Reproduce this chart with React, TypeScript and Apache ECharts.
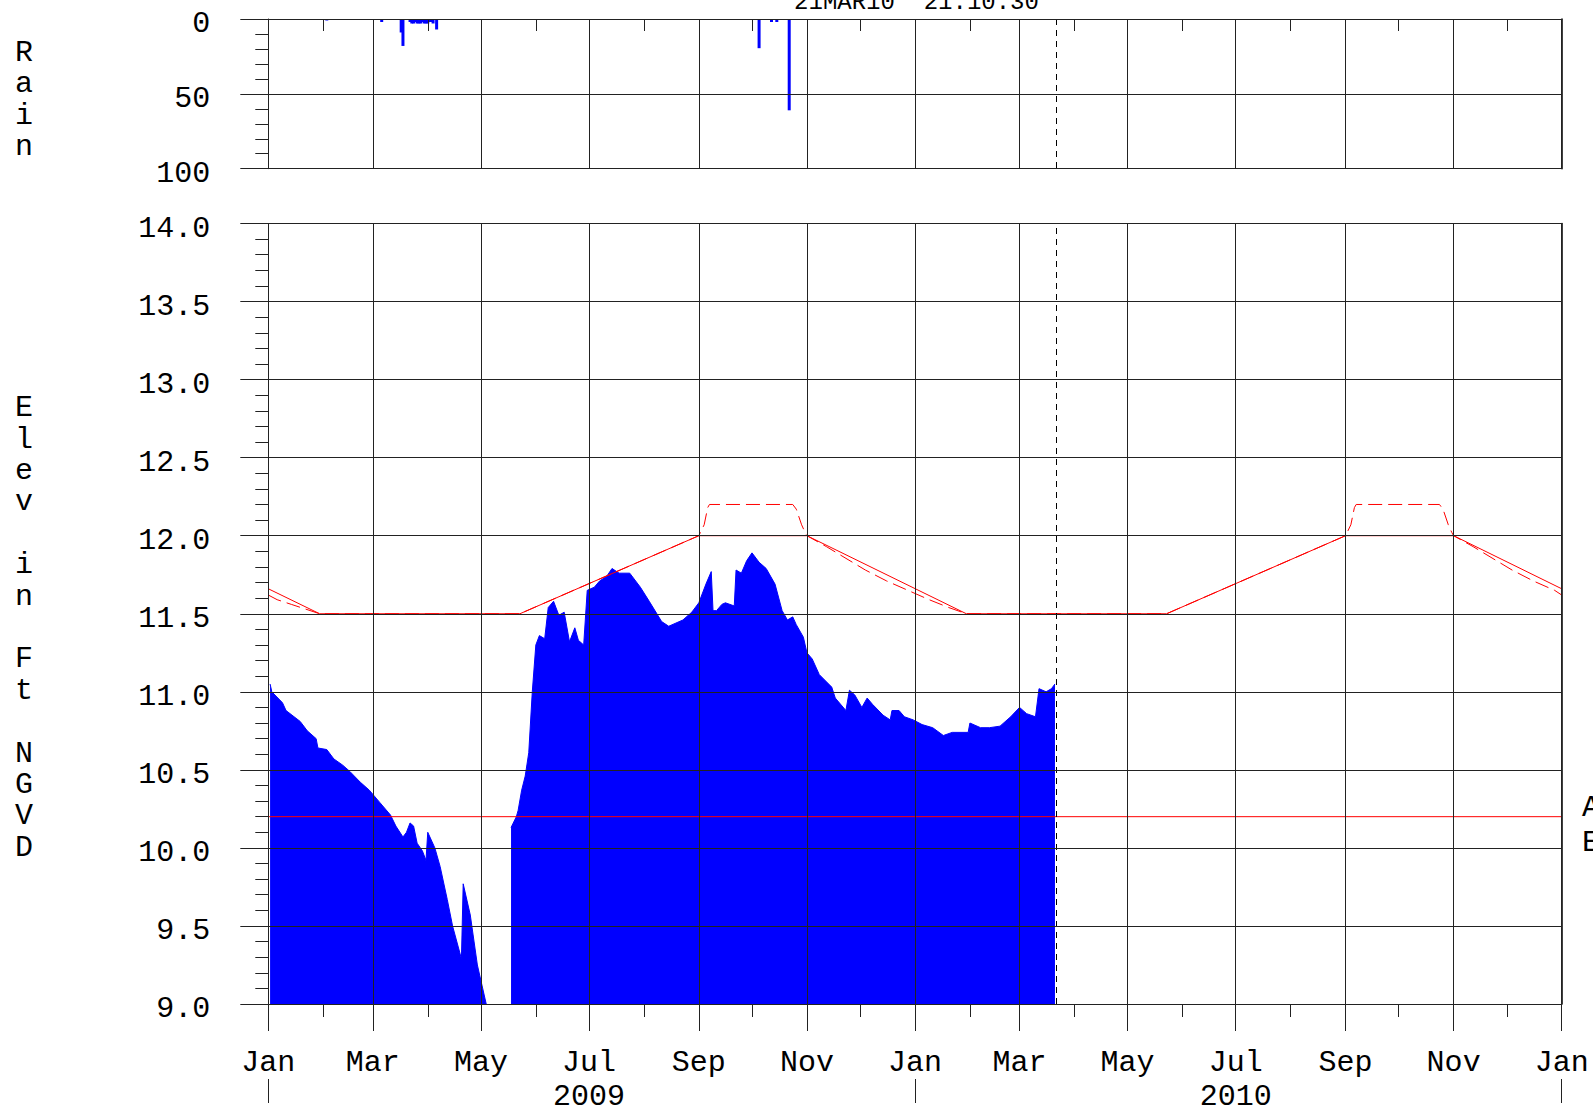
import React, { useEffect, useRef } from "react";
import * as echarts from "echarts";

// ---------- data ----------
const MONTHS = ["Jan", "Feb", "Mar", "Apr", "May", "Jun", "Jul", "Aug", "Sep", "Oct", "Nov", "Dec"];
const yTickLabels = ["9.0", "9.5", "10.0", "10.5", "11.0", "11.5", "12.0", "12.5", "13.0", "13.5", "14.0"];
const titleText = "21MAR10  21:10:30";
const nowTime = "2010-03-21T21:10:30Z";

const levelDates = [
  "2009-01-02", "2009-01-03", "2009-01-09", "2009-01-11", "2009-01-19", "2009-01-23", "2009-01-28", "2009-01-29",
  "2009-02-03", "2009-02-07", "2009-02-12", "2009-02-16", "2009-02-22", "2009-02-27", "2009-03-05", "2009-03-11",
  "2009-03-14", "2009-03-18", "2009-03-20", "2009-03-22", "2009-03-24", "2009-03-26", "2009-03-29", "2009-03-31",
  "2009-04-01", "2009-04-05", "2009-04-08", "2009-04-12", "2009-04-15", "2009-04-20", "2009-04-21", "2009-04-25",
  "2009-04-29", "2009-05-04", "2009-05-05", "2009-05-18", "2009-05-21", "2009-05-22", "2009-05-24", "2009-05-26",
  "2009-05-28", "2009-05-30", "2009-06-01", "2009-06-03", "2009-06-06", "2009-06-08", "2009-06-11", "2009-06-14",
  "2009-06-17", "2009-06-20", "2009-06-23", "2009-06-25", "2009-06-28", "2009-06-30", "2009-07-04", "2009-07-07",
  "2009-07-11", "2009-07-14", "2009-07-18", "2009-07-24", "2009-07-30", "2009-08-04", "2009-08-11", "2009-08-15",
  "2009-08-23", "2009-08-28", "2009-09-01", "2009-09-05", "2009-09-08", "2009-09-09", "2009-09-11", "2009-09-14",
  "2009-09-16", "2009-09-21", "2009-09-22", "2009-09-25", "2009-09-28", "2009-10-01", "2009-10-05", "2009-10-09",
  "2009-10-14", "2009-10-18", "2009-10-21", "2009-10-24", "2009-10-26", "2009-10-30", "2009-11-01", "2009-11-04",
  "2009-11-08", "2009-11-15", "2009-11-17", "2009-11-23", "2009-11-25", "2009-11-28", "2009-12-02", "2009-12-05",
  "2009-12-08", "2009-12-14", "2009-12-18", "2009-12-19", "2009-12-23", "2009-12-26", "2009-12-31", "2010-01-05",
  "2010-01-11", "2010-01-17", "2010-01-22", "2010-01-31", "2010-02-01", "2010-02-07", "2010-02-12", "2010-02-18",
  "2010-02-24", "2010-03-01", "2010-03-05", "2010-03-10", "2010-03-12", "2010-03-16", "2010-03-19", "2010-03-21",
];
const levelValues: (number | null)[] = [
  11.05, 11.0, 10.93, 10.88, 10.81, 10.75, 10.7, 10.64,
  10.63, 10.57, 10.53, 10.49, 10.42, 10.37, 10.29, 10.21,
  10.14, 10.07, 10.1, 10.16, 10.14, 10.03, 9.98, 9.92,
  10.1, 10.0, 9.88, 9.67, 9.5, 9.29, 9.77, 9.57,
  9.25, 9.0, null, 10.13, 10.2, 10.24, 10.37, 10.46,
  10.61, 11.0, 11.3, 11.36, 11.34, 11.54, 11.58, 11.49,
  11.51, 11.32, 11.41, 11.33, 11.3, 11.65, 11.67, 11.71,
  11.74, 11.79, 11.76, 11.76, 11.67, 11.58, 11.45, 11.42,
  11.46, 11.51, 11.57, 11.69, 11.77, 11.52, 11.52, 11.56,
  11.57, 11.55, 11.78, 11.76, 11.84, 11.89, 11.83, 11.79,
  11.69, 11.52, 11.46, 11.48, 11.43, 11.35, 11.25, 11.21,
  11.11, 11.03, 10.96, 10.88, 11.01, 10.98, 10.9, 10.96,
  10.92, 10.85, 10.82, 10.88, 10.88, 10.84, 10.82, 10.79,
  10.77, 10.72, 10.74, 10.74, 10.8, 10.77, 10.77, 10.78,
  10.84, 10.9, 10.86, 10.84, 11.02, 11.0, 11.02, 11.05,
];

const rainDates = [
  "2009-02-03", "2009-03-06", "2009-03-17", "2009-03-18",
  "2009-03-22", "2009-03-23", "2009-03-24", "2009-03-25", "2009-03-26", "2009-03-27", "2009-03-28",
  "2009-03-29", "2009-03-30", "2009-03-31", "2009-04-01", "2009-04-02", "2009-04-03", "2009-04-04",
  "2009-04-06", "2009-10-05", "2009-10-12", "2009-10-15", "2009-10-22",
];
const rainValues = [
  1, 2, 9, 18,
  2, 3, 3, 2, 3, 3, 3,
  2, 3, 3, 3, 2, 2, 3,
  7, 19.5, 2, 2, 61,
];

const scheduleDates = [
  "2009-01-01", "2009-01-30", "2009-05-23", "2009-09-01", "2009-11-01",
  "2010-01-30", "2010-05-23", "2010-09-01", "2010-11-01", "2011-01-01",
];
const scheduleValues = [11.66, 11.5, 11.5, 12.0, 12.0, 11.5, 11.5, 12.0, 12.0, 11.66];

const bandDates = [
  "2009-01-01", "2009-01-06", "2009-01-14", "2009-01-22", "2009-01-30", "2009-05-23",
  "2009-09-01", "2009-09-04", "2009-09-06", "2009-09-07", "2009-10-24", "2009-10-26", "2009-10-29", "2009-10-31",
  "2009-11-01", "2009-11-12", "2009-12-04", "2009-12-16", "2009-12-28", "2010-01-09", "2010-01-20", "2010-01-30",
  "2010-05-23", "2010-09-01", "2010-09-04", "2010-09-06", "2010-09-07", "2010-10-24", "2010-10-26", "2010-10-29",
  "2010-10-31", "2010-11-01", "2010-11-12", "2010-12-04", "2010-12-16", "2010-12-28", "2011-01-01",
];
const bandValues = [
  11.62, 11.59, 11.56, 11.53, 11.5, 11.5,
  12.0, 12.07, 12.18, 12.2, 12.2, 12.17, 12.07, 12.02,
  12.0, 11.93, 11.78, 11.71, 11.65, 11.59, 11.54, 11.5,
  11.5, 12.0, 12.07, 12.18, 12.2, 12.2, 12.17, 12.07,
  12.02, 12.0, 11.93, 11.78, 11.71, 11.65, 11.62,
];

const floorDates = ["2009-01-01", "2011-01-01"];
const floorValues = [10.2, 10.2];

// ---------- layout ----------
const FONT = "Liberation Mono";
const X0 = Date.UTC(2009, 0, 1);
const X1 = Date.UTC(2011, 0, 1);
const GL = 268.3;
const GR = 1593 - 1561.7;
const RAIN_TOP = 19;
const RAIN_H = 149.7;
const MAIN_TOP = 223.5;
const MAIN_H = 785.3;
const LINE = "#222";

const monthTicks = Array.from({ length: 25 }, (_, i) => Date.UTC(2009, i, 1));
const biMonthTicks = monthTicks.filter((_, i) => i % 2 === 0);
const yearTicks = [Date.UTC(2009, 0, 1), Date.UTC(2010, 0, 1), Date.UTC(2011, 0, 1)];
const yearLabelTicks = [Date.UTC(2009, 6, 1), Date.UTC(2010, 6, 1)];

const pairs = (d: string[], v: (number | null)[]) =>
  d.map((s, i) => [Date.parse(s), v[i] === null ? "-" : v[i]]);

const labelStyle = { fontFamily: FONT, fontSize: 30, color: "#000" };

function xAxisDef(gridIndex: number, extra: any) {
  return {
    type: "value",
    gridIndex,
    min: X0,
    max: X1,
    z: 10,
    splitLine: { show: false },
    axisLine: { show: false, lineStyle: { color: LINE, width: 1 } },
    axisLabel: { show: false },
    axisTick: { show: false },
    ...extra,
  };
}

function buildOption() {
  const nowTs = Date.parse(nowTime);
  const nowLine = {
    silent: true,
    symbol: "none",
    label: { show: false },
    lineStyle: { color: "#000", type: [6, 5], width: 1 },
    data: [{ xAxis: nowTs }],
  };
  const monthFmt = (v: number) => MONTHS[new Date(v).getUTCMonth()];
  const yearFmt = (v: number) => String(new Date(v).getUTCFullYear());

  return {
    animation: false,
    backgroundColor: "#fff",
    grid: [
      { left: GL, right: GR, top: RAIN_TOP, height: RAIN_H, show: false },
      { left: GL, right: GR, top: MAIN_TOP, height: MAIN_H, show: false },
    ],
    xAxis: [
      // rain panel
      xAxisDef(0, {
        position: "bottom",
        axisLine: { show: true, lineStyle: { color: LINE, width: 1 } },
        axisTick: { show: true, customValues: monthTicks, length: 12, lineStyle: { color: LINE } },
      }),
      xAxisDef(0, {
        position: "bottom",
        axisTick: { show: true, customValues: biMonthTicks, length: 27, lineStyle: { color: LINE } },
      }),
      xAxisDef(0, {
        position: "top",
        axisLine: { show: true, lineStyle: { color: LINE, width: 1 } },
        axisTick: { show: true, inside: true, customValues: biMonthTicks, length: RAIN_H, lineStyle: { color: LINE } },
      }),
      // main panel
      xAxisDef(1, {
        position: "bottom",
        axisLine: { show: true, lineStyle: { color: LINE, width: 1 } },
        axisTick: { show: true, customValues: monthTicks, length: 13, lineStyle: { color: LINE } },
      }),
      xAxisDef(1, {
        position: "bottom",
        axisTick: { show: true, customValues: biMonthTicks, length: 27, lineStyle: { color: LINE } },
        axisLabel: { show: true, customValues: biMonthTicks, margin: 44, formatter: monthFmt, ...labelStyle },
      }),
      xAxisDef(1, {
        position: "top",
        axisLine: { show: true, lineStyle: { color: LINE, width: 1 } },
        axisTick: { show: true, inside: true, customValues: biMonthTicks, length: MAIN_H, lineStyle: { color: LINE } },
      }),
      xAxisDef(1, {
        position: "bottom",
        offset: 75,
        axisTick: { show: true, customValues: yearTicks, length: 24, lineStyle: { color: LINE } },
        axisLabel: { show: true, customValues: yearLabelTicks, margin: 3, formatter: yearFmt, ...labelStyle },
      }),
    ],
    yAxis: [
      {
        type: "value",
        gridIndex: 0,
        min: 0,
        max: 100,
        interval: 50,
        inverse: true,
        z: 10,
        axisLine: { show: true, lineStyle: { color: LINE, width: 1 } },
        axisTick: { show: true, length: 28, lineStyle: { color: LINE } },
        minorTick: { show: true, splitNumber: 5, length: 13, lineStyle: { color: LINE } },
        splitLine: { show: true, lineStyle: { color: LINE, width: 1 } },
        axisLabel: { margin: 58, verticalAlign: "top", lineHeight: 10, ...labelStyle },
      },
      {
        type: "value",
        gridIndex: 1,
        min: 9,
        max: 14,
        interval: 0.5,
        z: 10,
        axisLine: { show: true, lineStyle: { color: LINE, width: 1 } },
        axisTick: { show: true, length: 28, lineStyle: { color: LINE } },
        minorTick: { show: true, splitNumber: 5, length: 13, lineStyle: { color: LINE } },
        splitLine: { show: true, lineStyle: { color: LINE, width: 1 } },
        axisLabel: {
          margin: 58,
          verticalAlign: "top",
          lineHeight: 10,
          formatter: (v: number) => yTickLabels[Math.round((v - 9) / 0.5)] ?? v.toFixed(1),
          ...labelStyle,
        },
      },
      {
        type: "value",
        gridIndex: 0,
        position: "right",
        min: 0,
        max: 100,
        inverse: true,
        z: 10,
        axisLine: { show: true, lineStyle: { color: "#000", width: 1.5 } },
        axisTick: { show: false },
        axisLabel: { show: false },
        splitLine: { show: false },
      },
      {
        type: "value",
        gridIndex: 1,
        position: "right",
        min: 9,
        max: 14,
        z: 10,
        axisLine: { show: true, lineStyle: { color: "#000", width: 1.5 } },
        axisTick: { show: false },
        axisLabel: { show: false },
        splitLine: { show: false },
      },
    ],
    series: [
      {
        type: "bar",
        name: "Rain",
        xAxisIndex: 0,
        yAxisIndex: 0,
        barWidth: 3,
        itemStyle: { color: "#0000ff" },
        data: pairs(rainDates, rainValues),
        markLine: nowLine,
      },
      {
        type: "line",
        name: "Stage",
        xAxisIndex: 3,
        yAxisIndex: 1,
        symbol: "none",
        showSymbol: false,
        clip: true,
        lineStyle: { color: "#0000ff", width: 1 },
        areaStyle: { color: "#0000ff", opacity: 1 },
        data: pairs(levelDates, levelValues),
        markLine: nowLine,
      },
      {
        type: "line",
        name: "Floor",
        xAxisIndex: 3,
        yAxisIndex: 1,
        symbol: "none",
        lineStyle: { color: "#ff0000", width: 1 },
        data: pairs(floorDates, floorValues),
      },
      {
        type: "line",
        name: "Schedule",
        xAxisIndex: 3,
        yAxisIndex: 1,
        symbol: "none",
        lineStyle: { color: "#ff0000", width: 1 },
        data: pairs(scheduleDates, scheduleValues),
      },
      {
        type: "line",
        name: "Band",
        xAxisIndex: 3,
        yAxisIndex: 1,
        symbol: "none",
        lineStyle: { color: "#ff0000", width: 1, type: [14, 6] },
        data: pairs(bandDates, bandValues),
      },
    ],
    graphic: [
      {
        type: "text",
        x: 24,
        y: 37,
        style: {
          text: "R\na\ni\nn",
          fontFamily: FONT,
          fontSize: 30,
          lineHeight: 31.4,
          fill: "#000",
          align: "center",
          textAlign: "center",
          verticalAlign: "top",
          textVerticalAlign: "top",
        },
      },
      {
        type: "text",
        x: 24,
        y: 392.6,
        style: {
          text: "E\nl\ne\nv\n\ni\nn\n\nF\nt\n\nN\nG\nV\nD",
          fontFamily: FONT,
          fontSize: 30,
          lineHeight: 31.4,
          fill: "#000",
          align: "center",
          textAlign: "center",
          verticalAlign: "top",
          textVerticalAlign: "top",
        },
      },
      {
        type: "text",
        x: 1582,
        y: 807.8,
        style: {
          text: "A",
          fontFamily: FONT,
          fontSize: 30,
          fill: "#000",
          align: "left",
          textAlign: "left",
          verticalAlign: "middle",
          textVerticalAlign: "middle",
        },
      },
      {
        type: "text",
        x: 1582,
        y: 842.8,
        style: {
          text: "E",
          fontFamily: FONT,
          fontSize: 30,
          fill: "#000",
          align: "left",
          textAlign: "left",
          verticalAlign: "middle",
          textVerticalAlign: "middle",
        },
      },
      {
        type: "text",
        x: 916.5,
        y: 2.6,
        style: {
          text: titleText,
          fontFamily: FONT,
          fontSize: 24,
          fill: "#000",
          align: "center",
          textAlign: "center",
          verticalAlign: "middle",
          textVerticalAlign: "middle",
        },
      },
    ],
  };
}

export default function App() {
  const ref = useRef<HTMLDivElement>(null);
  useEffect(() => {
    if (!ref.current) return;
    const chart = echarts.init(ref.current, null, { renderer: "svg" });
    chart.setOption(buildOption() as any);
    return () => chart.dispose();
  }, []);
  return (
    <div
      ref={ref}
      style={{ position: "absolute", left: 0, top: 0, width: 1593, height: 1112, background: "#fff" }}
    />
  );
}
